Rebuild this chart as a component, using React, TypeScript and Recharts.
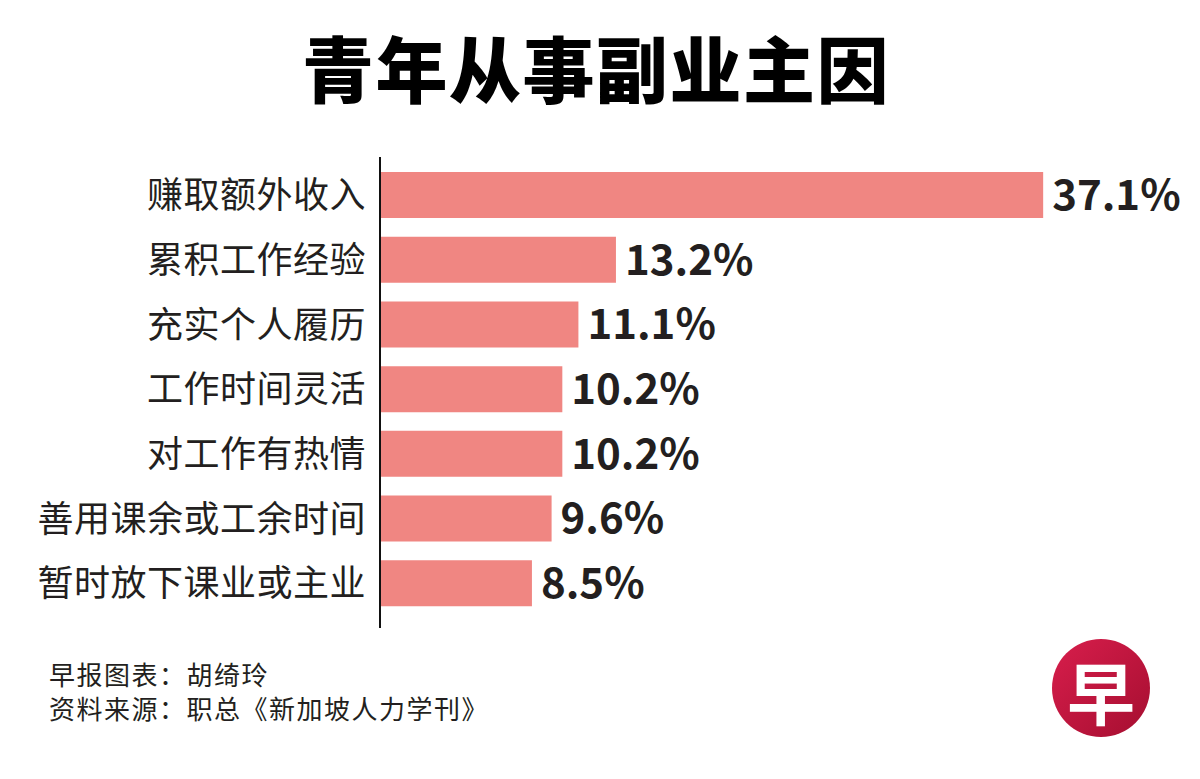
import * as React from "react"
import { BarChart, Bar, XAxis, YAxis, LabelList } from "recharts"

const categories = [
  "赚取额外收入",
  "累积工作经验",
  "充实个人履历",
  "工作时间灵活",
  "对工作有热情",
  "善用课余或工余时间",
  "暂时放下课业或主业",
]
const shares = [37.1, 13.2, 11.1, 10.2, 10.2, 9.6, 8.5]

const title = "青年从事副业主因"
const creditLines = ["早报图表：胡绮玲", "资料来源：职总《新加坡人力学刊》"]

const data = categories.map((name, i) => ({ name, value: shares[i] }))

const cjk = '"Noto Sans CJK SC", "Noto Sans", sans-serif'
const ink = "#231f20"

export default function App() {
  return (
    <div style={{ position: "relative", width: 1200, height: 779, background: "#fff", overflow: "hidden" }}>
      <style>{`body{margin:0;}`}</style>
      <div
        style={{
          position: "absolute",
          top: 23,
          left: -4,
          width: 1200,
          textAlign: "center",
          fontFamily: cjk,
          fontWeight: 900,
          fontSize: 72,
          lineHeight: "86px",
          letterSpacing: 1.5,
          color: "#000",
        }}
      >
        {title}
      </div>
      <BarChart
        width={1200}
        height={779}
        data={data}
        layout="vertical"
        margin={{ top: 157, right: 105, bottom: 151, left: 0 }}
        barCategoryGap={0}
      >
        <XAxis type="number" domain={[0, 40]} hide />
        <YAxis
          type="category"
          dataKey="name"
          width={380}
          padding={{ top: 6, bottom: 12 }}
          axisLine={{ stroke: "#111", strokeWidth: 2 }}
          tickLine={false}
          tickMargin={8}
          interval={0}
          tick={{ fill: ink, fontSize: 36, fontFamily: cjk, letterSpacing: 0.5 }}
        />
        <Bar dataKey="value" fill="#f08682" barSize={46} isAnimationActive={false}>
          <LabelList
            dataKey="value"
            position="right"
            offset={9}
            formatter={(v: number) => `${v}%`}
            style={{ fill: ink, fontSize: 42, fontWeight: 700, fontFamily: cjk }}
          />
        </Bar>
      </BarChart>
      {creditLines.map((t, i) => (
        <div
          key={t}
          style={{
            position: "absolute",
            left: 49,
            top: 659 + i * 34,
            fontFamily: cjk,
            fontSize: 26,
            lineHeight: "30px",
            letterSpacing: 1.5,
            color: ink,
          }}
        >
          {t}
        </div>
      ))}
      <svg width={110} height={110} style={{ position: "absolute", left: 1046, top: 633 }}>
        <defs>
          <linearGradient id="logoGrad" x1="0" y1="0" x2="1" y2="1">
            <stop offset="0%" stopColor="#d81e4c" />
            <stop offset="100%" stopColor="#a50e30" />
          </linearGradient>
        </defs>
        <circle cx={55} cy={55} r={49} fill="url(#logoGrad)" />
        <text
          x={55}
          y={57}
          textAnchor="middle"
          dominantBaseline="central"
          fill="#fff"
          fontSize={68}
          fontWeight={700}
          fontFamily={cjk}
        >
          早
        </text>
      </svg>
    </div>
  )
}
